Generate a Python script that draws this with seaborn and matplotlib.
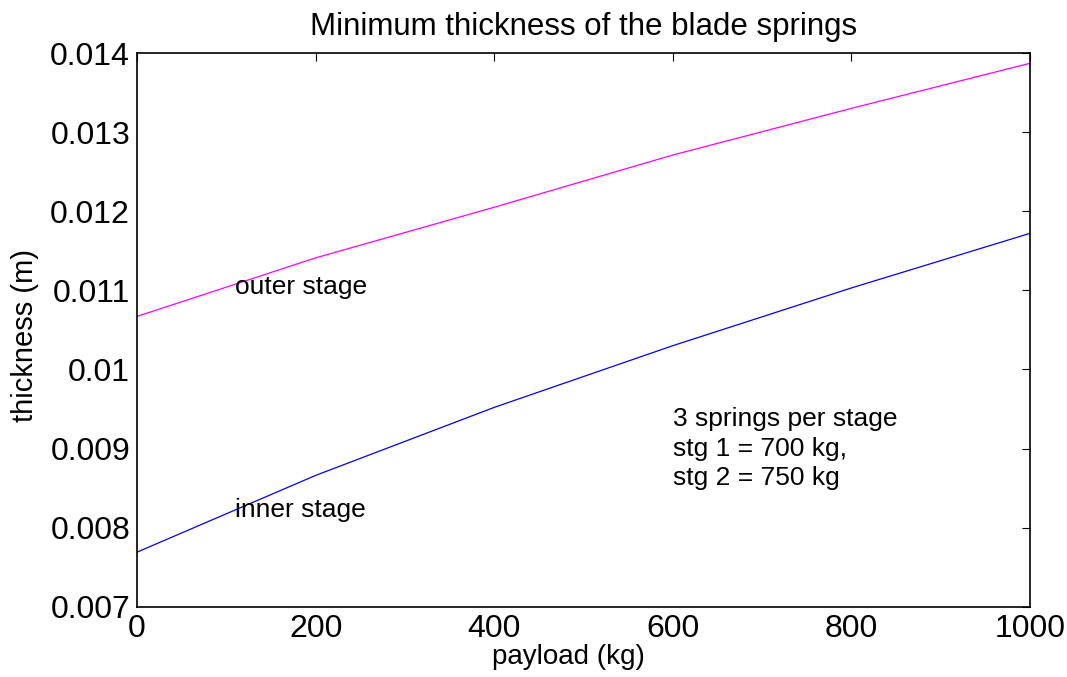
import matplotlib
matplotlib.use("Agg")
import matplotlib.pyplot as plt
import seaborn as sns
import pandas as pd

# values
payload_kg = [0, 200, 400, 600, 800, 1000]
outer_thickness = [0.01067, 0.01141, 0.01205, 0.01271, 0.01330, 0.01387]
inner_thickness = [0.00769, 0.00866, 0.00952, 0.01030, 0.01103, 0.01172]

x_ticks = [0, 200, 400, 600, 800, 1000]
y_ticks = [0.007, 0.008, 0.009, 0.010, 0.011, 0.012, 0.013, 0.014]
y_tick_labels = ["0.007", "0.008", "0.009", "0.01", "0.011", "0.012", "0.013", "0.014"]

note_lines = ["3 springs per stage", "stg 1 = 700 kg,", "stg 2 = 750 kg"]


def build_dataframe() -> pd.DataFrame:
    outer = pd.DataFrame({"payload": payload_kg, "thickness": outer_thickness})
    outer["stage"] = "outer stage"
    inner = pd.DataFrame({"payload": payload_kg, "thickness": inner_thickness})
    inner["stage"] = "inner stage"
    return pd.concat([outer, inner], ignore_index=True)


sns.set_style("white")
plt.rcParams["font.family"] = ["Liberation Sans", "DejaVu Sans"]
plt.rcParams["text.color"] = "black"
plt.rcParams["axes.labelcolor"] = "black"
plt.rcParams["xtick.color"] = "black"
plt.rcParams["ytick.color"] = "black"

fig = plt.figure(figsize=(10.67, 6.77), dpi=100)
ax = fig.add_axes([0.1284, 0.1038, 0.8369, 0.8179])

df = build_dataframe()
sns.lineplot(
    data=df,
    x="payload",
    y="thickness",
    hue="stage",
    palette={"outer stage": "#ff00ff", "inner stage": "#0000ff"},
    linewidth=0.9,
    legend=False,
    ax=ax,
)

ax.set_xlim(0, 1000)
ax.set_ylim(0.007, 0.014)
ax.set_xticks(x_ticks)
ax.set_xticklabels([str(t) for t in x_ticks])
ax.set_yticks(y_ticks)
ax.set_yticklabels(y_tick_labels)
ax.tick_params(direction="in", length=6, width=0.8, labelsize=23,
               top=True, right=True, pad=5)

for spine in ax.spines.values():
    spine.set_visible(True)
    spine.set_color("black")
    spine.set_linewidth(1.2)

ax.set_title("Minimum thickness of the blade springs", fontsize=22.5, pad=13)
ax.set_xlabel("payload (kg)", fontsize=20)
ax.xaxis.set_label_coords(0.483, -0.068)
ax.set_ylabel("thickness (m)", fontsize=21)
ax.yaxis.set_label_coords(-0.110, 0.49)

# annotations
ax.text(110, 0.01104, "outer stage", fontsize=19, va="center", ha="left")
ax.text(110, 0.00822, "inner stage", fontsize=19, va="center", ha="left")
ax.text(600, 0.00900, "\n".join(note_lines), fontsize=19, va="center",
        ha="left", linespacing=1.28)

fig.savefig("out.png", dpi=100)
